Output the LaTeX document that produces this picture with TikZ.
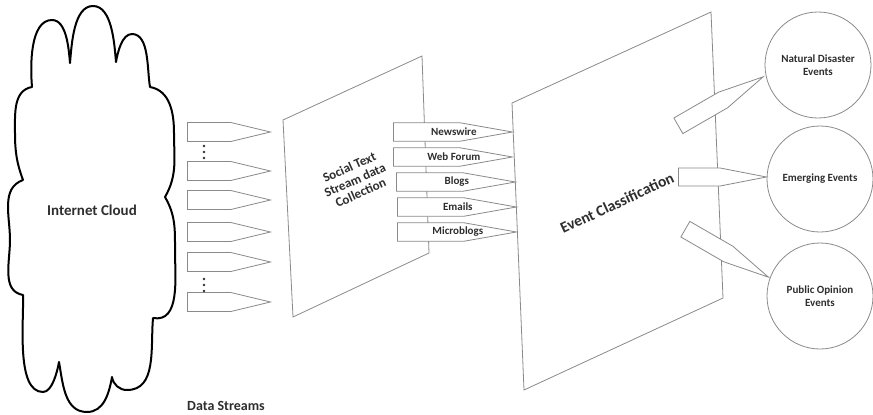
\documentclass[tikz,border=0pt]{standalone}
\usepackage{fontspec}
\setmainfont{Carlito}
\usetikzlibrary{shapes.arrows,shapes.geometric,calc}
\definecolor{edgegray}{HTML}{8A8A8A}
\definecolor{labelink}{HTML}{2E2E2E}

\begin{document}
\begin{tikzpicture}[x=1pt,y=1pt,
    pointer/.style={single arrow,single arrow head extend=0pt,draw=edgegray,fill=white,
      line width=0.8pt,inner sep=0pt,anchor=tail},
    streamptr/.style={pointer,minimum width=19pt,minimum height=83pt,single arrow tip angle=27},
    sourceptr/.style={pointer,minimum width=18.5pt,minimum height=119pt,single arrow tip angle=20},
    sourcetext/.style={text=labelink,font=\bfseries\fontsize{11}{13}\selectfont},
    eventptr/.style={pointer,minimum width=18pt,single arrow tip angle=22},
    panel/.style={draw=edgegray,fill=white,line width=0.8pt},
    eventcircle/.style={circle,draw=edgegray,line width=0.8pt,minimum size=106pt,inner sep=0pt,
      align=center,text=labelink,font=\bfseries\fontsize{11}{13.5}\selectfont},
    bigtext/.style={text=labelink,font=\bfseries\fontsize{#1}{#1}\selectfont}]
  \useasboundingbox (0,0) rectangle (873,-415);

  % internet cloud
  \draw[line width=2pt,line join=round] (23,-180) to[out=110,in=270] (15,-133) to[out=90,in=190] (32,-87)
    to[out=95,in=180,looseness=0.8] (52,-20) to[out=0,in=95,looseness=0.8] (70,-63)
    to[out=85,in=180,looseness=0.8] (93,-6) to[out=0,in=95,looseness=0.8] (116,-62)
    to[out=80,in=180,looseness=0.8] (132,-34) to[out=0,in=100,looseness=0.8] (150,-87)
    to[out=-10,in=90] (174,-133) to[out=270,in=60] (165,-197)
    to[out=-60,in=90] (175,-250) to[out=270,in=-10] (153,-318)
    to[out=265,in=0] (127,-390) to[out=180,in=-80] (112,-377)
    to[out=-100,in=0] (87,-412) to[out=180,in=-80] (59,-362)
    to[out=-100,in=0,looseness=0.7] (43,-392) to[out=180,in=-88,looseness=0.7] (23,-295)
    to[out=170,in=270] (10,-240) to[out=90,in=200] cycle;
  \node[bigtext=15] (cloud) at (92,-210) {Internet Cloud};

  % data streams
  \foreach \y [count=\i] in {132,171,200,232,262,302}
    \node[streamptr] (stream\i) at (187,-\y) {};
  \foreach \y in {146,152,158,279,285,291}
    \fill[labelink] (204,-\y) circle (1.4pt);
  \node[bigtext=14] (streams) at (226,-406) {Data Streams};

  % panels
  \draw[panel] (512,-103) coordinate (ecTL) -- (711,-12) coordinate (ecTR)
    -- (723,-298) coordinate (ecBR) -- (524,-390) coordinate (ecBL) -- cycle;
  \draw[panel] (283,-120) coordinate (scTL) -- (422,-56) coordinate (scTR)
    -- (429,-253) coordinate (scBR) -- (293,-317) coordinate (scBL) -- cycle;
  \node[bigtext=13,align=center,rotate=24] (collect) at (355,-180)
    {Social Text\\[1pt]Stream data\\[1pt]Collection};
  \node[bigtext=15.5,rotate=25] (classify) at (617,-203) {Event Classification};

  % text sources
  \foreach \src/\x/\y/\txt in {newswire/393/132/Newswire,webforum/393/157/Web Forum,
      blogs/396/182/Blogs,emails/397/207/Emails,microblogs/397/232/Microblogs}{
    \node[sourceptr] (\src) at (\x,-\y) {};
    \node[sourcetext] (\src-text) at ($(\src.tail)!0.5!(\src.tip)$) {\txt};
  }

  % event classes
  \node[eventptr,minimum height=98pt,rotate=30] (toNatural) at (678,-126) {};
  \node[eventptr,minimum height=88pt] (toEmerging) at (678,-177) {};
  \node[eventptr,minimum height=96pt,rotate=-30] (toPublic) at (685,-229) {};
  \node[eventcircle] (natural) at (818,-65) {Natural Disaster\\Events};
  \node[eventcircle] (emerging) at (820,-179) {Emerging Events};
  \node[eventcircle] (public) at (820,-296) {Public Opinion\\Events};
\end{tikzpicture}
\end{document}
